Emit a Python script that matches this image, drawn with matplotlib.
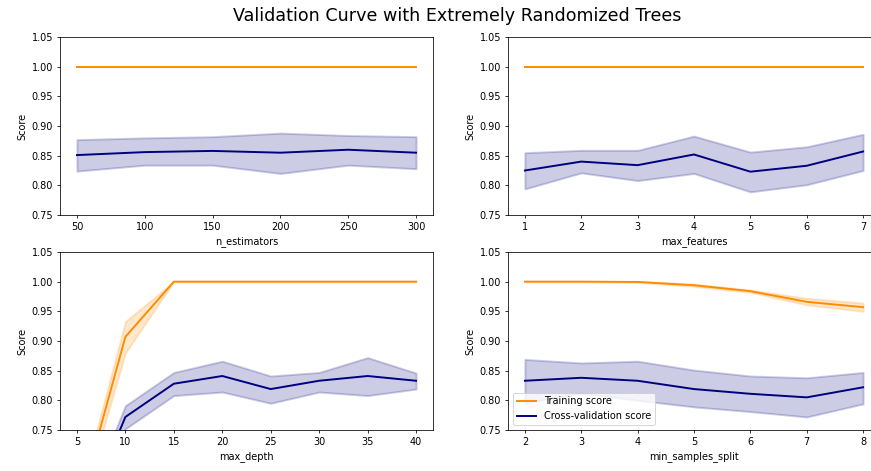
import numpy as np
from matplotlib import pyplot as plt

# n_estimators
n_est = [50, 100, 150, 200, 250, 300]
n_est_train = [1.0, 1.0, 1.0, 1.0, 1.0, 1.0]
n_est_train_lo = [1.0, 1.0, 1.0, 1.0, 1.0, 1.0]
n_est_train_hi = [1.0, 1.0, 1.0, 1.0, 1.0, 1.0]
n_est_cv = [0.851, 0.856, 0.858, 0.855, 0.860, 0.855]
n_est_cv_lo = [0.824, 0.834, 0.834, 0.820, 0.834, 0.828]
n_est_cv_hi = [0.877, 0.880, 0.882, 0.888, 0.884, 0.882]

# max_features
max_feat = [1, 2, 3, 4, 5, 6, 7]
max_feat_train = [1.0, 1.0, 1.0, 1.0, 1.0, 1.0, 1.0]
max_feat_train_lo = [1.0, 1.0, 1.0, 1.0, 1.0, 1.0, 1.0]
max_feat_train_hi = [1.0, 1.0, 1.0, 1.0, 1.0, 1.0, 1.0]
max_feat_cv = [0.825, 0.840, 0.834, 0.852, 0.823, 0.833, 0.857]
max_feat_cv_lo = [0.794, 0.821, 0.808, 0.820, 0.789, 0.801, 0.825]
max_feat_cv_hi = [0.855, 0.859, 0.859, 0.883, 0.856, 0.865, 0.886]

# max_depth
max_depth = [5, 10, 15, 20, 25, 30, 35, 40]
max_depth_train = [0.610, 0.907, 1.0, 1.0, 1.0, 1.0, 1.0, 1.0]
max_depth_train_lo = [0.597, 0.880, 1.0, 1.0, 1.0, 1.0, 1.0, 1.0]
max_depth_train_hi = [0.624, 0.933, 1.0, 1.0, 1.0, 1.0, 1.0, 1.0]
max_depth_cv = [0.576, 0.772, 0.828, 0.841, 0.819, 0.833, 0.841, 0.833]
max_depth_cv_lo = [0.560, 0.752, 0.808, 0.814, 0.795, 0.814, 0.808, 0.819]
max_depth_cv_hi = [0.590, 0.791, 0.847, 0.866, 0.841, 0.847, 0.872, 0.846]

# min_samples_split
min_split = [2, 3, 4, 5, 6, 7, 8]
min_split_train = [1.0, 1.0, 0.9995, 0.994, 0.984, 0.966, 0.957]
min_split_train_lo = [1.0, 1.0, 0.999, 0.992, 0.982, 0.961, 0.950]
min_split_train_hi = [1.0, 1.0, 1.0, 0.996, 0.986, 0.972, 0.964]
min_split_cv = [0.833, 0.838, 0.833, 0.819, 0.811, 0.805, 0.822]
min_split_cv_lo = [0.796, 0.812, 0.800, 0.789, 0.781, 0.772, 0.794]
min_split_cv_hi = [0.869, 0.863, 0.866, 0.851, 0.841, 0.838, 0.847]

panels = [
    ("n_estimators", n_est, n_est_train, n_est_train_lo, n_est_train_hi,
     n_est_cv, n_est_cv_lo, n_est_cv_hi),
    ("max_features", max_feat, max_feat_train, max_feat_train_lo, max_feat_train_hi,
     max_feat_cv, max_feat_cv_lo, max_feat_cv_hi),
    ("max_depth", max_depth, max_depth_train, max_depth_train_lo, max_depth_train_hi,
     max_depth_cv, max_depth_cv_lo, max_depth_cv_hi),
    ("min_samples_split", min_split, min_split_train, min_split_train_lo, min_split_train_hi,
     min_split_cv, min_split_cv_lo, min_split_cv_hi),
]

W, H = 871, 471
fig = plt.figure(figsize=(W / 70, H / 70), dpi=70)

# axes rectangles in pixels: (left, top, right, bottom)
# the right column runs a little past the figure edge, like the reference
rects = [(60, 37, 433, 215), (508, 37, 880, 215),
         (60, 252, 433, 430), (508, 252, 880, 430)]

for (name, x, tr, tr_lo, tr_hi, cv, cv_lo, cv_hi), (l, t, r, b) in zip(panels, rects):
    ax = fig.add_axes([l / W, 1 - b / H, (r - l) / W, (b - t) / H])
    ax.plot(x, tr, label="Training score", color="darkorange", lw=2)
    ax.fill_between(x, tr_lo, tr_hi, alpha=0.2, color="darkorange", lw=2)
    ax.plot(x, cv, label="Cross-validation score", color="navy", lw=2)
    ax.fill_between(x, cv_lo, cv_hi, alpha=0.2, color="navy", lw=2)
    ax.set_ylim(0.75, 1.05)
    ax.set_xlabel(name)
    ax.set_ylabel("Score")
    if name == "min_samples_split":
        ax.legend(loc="lower left")

fig.suptitle("Validation Curve with Extremely Randomized Trees", fontsize=18,
             x=457 / W, y=0.985)
fig.savefig("out.png", dpi=70)
